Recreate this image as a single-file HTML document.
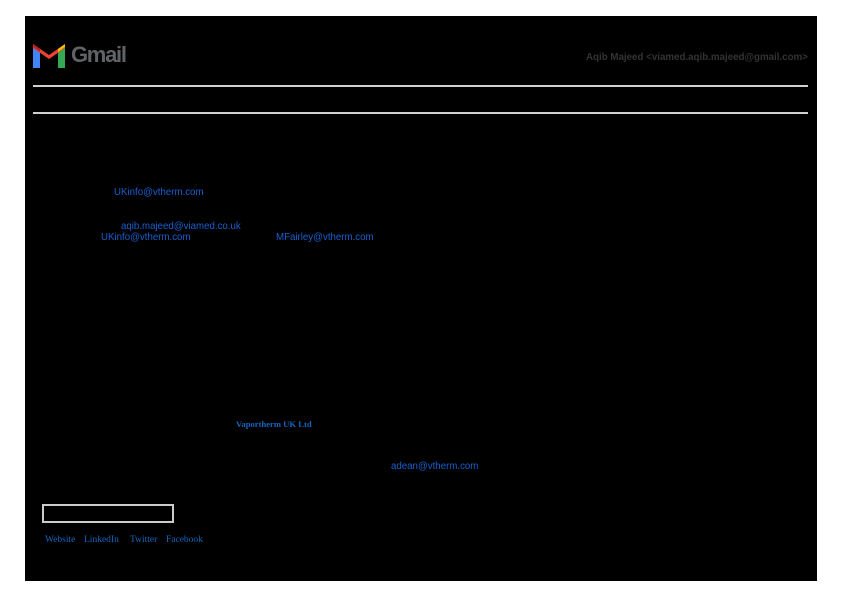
<!DOCTYPE html>
<html><head><meta charset="utf-8"><style>
body{margin:0;width:842px;height:595px;background:#fff;position:relative;overflow:hidden;font-family:"Liberation Sans",sans-serif}
.pg{position:absolute;left:25px;top:16px;width:792px;height:565px;background:#000}
.t{position:absolute;white-space:nowrap;font-size:9.7px;color:#1a5fd0;line-height:1}
.s{font-family:"Liberation Serif",serif;color:#1565c0;font-size:9.5px}
.hr{position:absolute;left:33px;width:775px;height:2px;background:#d0d0d0}
</style></head><body>
<div class="pg"></div>
<svg style="position:absolute;left:33px;top:44px" width="32" height="24" viewBox="0 0 32 24">
<path d="M0 4 V24 H7 V8 Z" fill="#4285f4"/>
<path d="M25 8 V24 H32 V4 Z" fill="#34a853"/>
<path d="M0 4 L16 15 L32 4 V0 L16 11 L0 0 Z" fill="#ea4335"/>
<path d="M25 8 L32 3 V0 L25 5Z" fill="#fbbc04"/>
<path d="M0 0 L7 5 V8 L0 3Z" fill="#c5221f"/>
</svg>
<div class="t" style="left:71px;top:44px;font-size:22px;font-weight:bold;color:#5f6368;letter-spacing:-1.3px">Gmail</div>
<div class="t" style="left:586px;top:53px;color:#333;font-weight:bold;font-size:9.75px">Aqib Majeed &lt;viamed.aqib.majeed@gmail.com&gt;</div>
<div class="hr" style="top:85px"></div>
<div class="hr" style="top:112px"></div>
<div class="t" style="left:114px;top:188px">UKinfo@vtherm.com</div>
<div class="t" style="left:121px;top:222px">aqib.majeed@viamed.co.uk</div>
<div class="t" style="left:101px;top:233px">UKinfo@vtherm.com</div>
<div class="t" style="left:276px;top:233px">MFairley@vtherm.com</div>
<div class="t s" style="left:236px;top:420px;font-weight:bold;font-size:8.6px">Vaportherm UK Ltd</div>
<div class="t" style="left:391px;top:462px">adean@vtherm.com</div>
<div style="position:absolute;left:42px;top:504px;width:128px;height:15px;border:2px solid #ccc"></div>
<div class="t s" style="left:45px;top:536px">Website</div>
<div class="t s" style="left:84px;top:536px">LinkedIn</div>
<div class="t s" style="left:130px;top:536px">Twitter</div>
<div class="t s" style="left:166px;top:536px">Facebook</div>
</body></html>
